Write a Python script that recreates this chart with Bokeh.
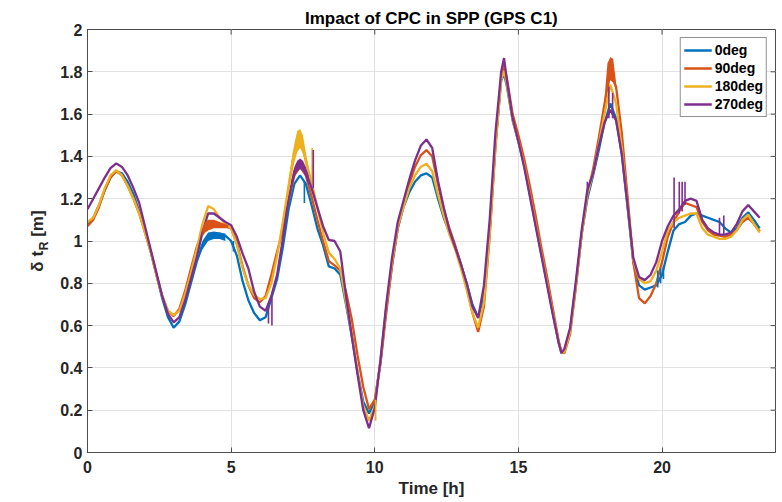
import numpy as np
from bokeh.plotting import figure
from bokeh.models import Range1d, FixedTicker, LinearAxis, Legend, LegendItem
from bokeh.embed import file_html
from bokeh.resources import INLINE

# ---------------- data ----------------
# sampling times [h]: 0.2 h grid with the two sharp extrema added
T = sorted([round(0.2 * i, 1) for i in range(118)] + [14.5, 16.5])

deg0 = [1.08, 1.11, 1.17, 1.24, 1.30, 1.33, 1.32, 1.28, 1.22, 1.14,
        1.05, 0.95, 0.84, 0.73, 0.64, 0.59, 0.62, 0.70, 0.80, 0.90,
        0.98, 1.02, 1.035, 1.035, 1.025, 1.00, 0.93, 0.81, 0.72, 0.66,
        0.625, 0.64, 0.73, 0.82, 0.97, 1.15, 1.27, 1.31, 1.27, 1.17,
        1.06, 0.98, 0.88, 0.87, 0.84, 0.70, 0.55, 0.38, 0.24, 0.185,
        0.24, 0.43, 0.68, 0.89, 1.06, 1.16, 1.23, 1.28, 1.31, 1.32,
        1.30, 1.20, 1.11, 1.04, 0.97, 0.89, 0.80, 0.70, 0.64, 0.74,
        1.05, 1.46, 1.76, 1.79, 1.73, 1.57, 1.47, 1.36, 1.22, 1.08,
        0.94, 0.80, 0.66, 0.52, 0.47, 0.48, 0.58, 0.79, 1.03, 1.20,
        1.31, 1.43, 1.56, 1.65, 1.58, 1.41, 1.16, 0.90, 0.79, 0.77,
        0.78, 0.79, 0.84, 0.95, 1.05, 1.08, 1.09, 1.12, 1.13, 1.12,
        1.11, 1.10, 1.09, 1.06, 1.04, 1.06, 1.11, 1.135, 1.10, 1.06]

deg90 = [1.07, 1.10, 1.16, 1.24, 1.30, 1.33, 1.31, 1.26, 1.20, 1.13,
         1.04, 0.95, 0.84, 0.74, 0.67, 0.645, 0.68, 0.765, 0.87, 0.97,
         1.045, 1.075, 1.08, 1.075, 1.07, 1.06, 0.99, 0.88, 0.79, 0.73,
         0.71, 0.74, 0.84, 0.95, 1.05, 1.19, 1.31, 1.35, 1.31, 1.21,
         1.10, 1.00, 0.905, 0.885, 0.86, 0.76, 0.63, 0.46, 0.31, 0.205,
         0.25, 0.42, 0.66, 0.88, 1.06, 1.17, 1.27, 1.35, 1.405, 1.43,
         1.40, 1.27, 1.15, 1.06, 0.98, 0.89, 0.78, 0.66, 0.57, 0.69,
         1.02, 1.44, 1.77, 1.83, 1.77, 1.60, 1.50, 1.39, 1.26, 1.12,
         0.97, 0.83, 0.68, 0.53, 0.475, 0.47, 0.56, 0.78, 1.03, 1.22,
         1.34, 1.49, 1.65, 1.80, 1.73, 1.51, 1.21, 0.90, 0.73, 0.705,
         0.74, 0.80, 0.90, 1.02, 1.09, 1.14, 1.18, 1.17, 1.16, 1.09,
         1.05, 1.03, 1.025, 1.02, 1.03, 1.05, 1.09, 1.11, 1.08, 1.045]

deg180 = [1.09, 1.11, 1.17, 1.25, 1.31, 1.335, 1.31, 1.26, 1.20, 1.13,
          1.04, 0.95, 0.84, 0.74, 0.67, 0.65, 0.67, 0.75, 0.85, 0.96,
          1.08, 1.165, 1.15, 1.11, 1.08, 1.06, 0.98, 0.87, 0.79, 0.745,
          0.725, 0.73, 0.80, 0.93, 1.09, 1.26, 1.43, 1.49, 1.38, 1.28,
          1.16, 1.04, 0.945, 0.915, 0.87, 0.71, 0.56, 0.38, 0.22, 0.15,
          0.22, 0.44, 0.69, 0.90, 1.07, 1.16, 1.25, 1.31, 1.35, 1.365,
          1.33, 1.22, 1.12, 1.03, 0.96, 0.87, 0.77, 0.66, 0.59, 0.71,
          1.03, 1.45, 1.76, 1.805, 1.74, 1.57, 1.47, 1.36, 1.22, 1.08,
          0.94, 0.80, 0.66, 0.52, 0.47, 0.475, 0.57, 0.79, 1.03, 1.22,
          1.32, 1.46, 1.60, 1.74, 1.65, 1.44, 1.17, 0.91, 0.82, 0.80,
          0.81, 0.86, 0.95, 1.05, 1.09, 1.11, 1.12, 1.13, 1.13, 1.06,
          1.03, 1.02, 1.01, 1.01, 1.02, 1.05, 1.10, 1.125, 1.08, 1.04]

deg270 = [1.15, 1.20, 1.25, 1.30, 1.345, 1.367, 1.35, 1.31, 1.25, 1.18,
          1.07, 0.96, 0.85, 0.74, 0.655, 0.615, 0.64, 0.72, 0.82, 0.92,
          1.04, 1.13, 1.13, 1.11, 1.09, 1.075, 1.02, 0.94, 0.87, 0.76,
          0.69, 0.67, 0.74, 0.84, 1.01, 1.20, 1.33, 1.37, 1.33, 1.25,
          1.16, 1.07, 1.005, 1.00, 0.95, 0.74, 0.55, 0.37, 0.20, 0.115,
          0.21, 0.44, 0.70, 0.92, 1.09, 1.19, 1.29, 1.38, 1.45, 1.48,
          1.44, 1.285, 1.16, 1.05, 0.97, 0.89, 0.80, 0.69, 0.636, 0.79,
          1.10, 1.51, 1.80, 1.865, 1.76, 1.58, 1.47, 1.35, 1.21, 1.07,
          0.93, 0.79, 0.65, 0.52, 0.47, 0.49, 0.59, 0.81, 1.05, 1.24,
          1.32, 1.45, 1.56, 1.62, 1.57, 1.41, 1.17, 0.92, 0.83, 0.815,
          0.84, 0.90, 1.00, 1.07, 1.12, 1.15, 1.19, 1.20, 1.19, 1.10,
          1.06, 1.04, 1.03, 1.03, 1.04, 1.08, 1.14, 1.17, 1.14, 1.11]

series_labels = ["0deg", "90deg", "180deg", "270deg"]

# noisy bands (lower / upper envelope)
band0_t = [3.9, 4.0, 4.2, 4.4, 4.6, 4.8]
band0_lo = [0.93, 0.96, 1.00, 1.01, 1.01, 1.00]
band0_hi = [0.96, 1.00, 1.04, 1.045, 1.04, 1.035]
band90a_t = [4.0, 4.1, 4.2, 4.4, 4.6, 4.8, 4.9]
band90a_lo = [1.02, 1.04, 1.05, 1.06, 1.06, 1.06, 1.06]
band90a_hi = [1.06, 1.09, 1.10, 1.10, 1.09, 1.08, 1.075]
band90b_t = [18.0, 18.1, 18.2, 18.3, 18.4]
band90b_lo = [1.64, 1.72, 1.76, 1.75, 1.71]
band90b_hi = [1.68, 1.84, 1.87, 1.86, 1.75]
band180_t = [6.9, 7.0, 7.1, 7.2, 7.3, 7.4, 7.5, 7.6, 7.7]
band180_lo = [1.15, 1.22, 1.30, 1.37, 1.42, 1.44, 1.41, 1.35, 1.31]
band180_hi = [1.19, 1.29, 1.38, 1.46, 1.52, 1.53, 1.50, 1.42, 1.35]
band270_t = [7.1, 7.2, 7.3, 7.4, 7.5, 7.6, 7.7]
band270_lo = [1.25, 1.30, 1.33, 1.34, 1.33, 1.30, 1.26]
band270_hi = [1.29, 1.35, 1.38, 1.39, 1.38, 1.35, 1.31]

# isolated spikes (time, low, high)
spike0_t = [5.08, 7.55, 19.85, 19.95, 20.05]
spike0_lo = [0.95, 1.18, 0.78, 0.80, 0.82]
spike0_hi = [1.00, 1.28, 0.86, 0.87, 0.88]
spike180_t = [7.82, 10.03]
spike180_lo = [1.28, 0.15]
spike180_hi = [1.44, 0.25]
spike270_t = [6.3, 6.42, 7.86, 17.4, 18.15, 18.28, 20.42, 20.6, 20.7, 20.8, 22.0, 22.15]
spike270_lo = [0.61, 0.60, 1.25, 1.22, 1.58, 1.58, 1.06, 1.13, 1.14, 1.17, 1.03, 1.03]
spike270_hi = [0.70, 0.73, 1.43, 1.28, 1.73, 1.70, 1.30, 1.28, 1.28, 1.28, 1.11, 1.12]

xticks = [0, 5, 10, 15, 20]
xtick_labels = ["0", "5", "10", "15", "20"]
yticks = [0, 0.2, 0.4, 0.6, 0.8, 1, 1.2, 1.4, 1.6, 1.8, 2]
ytick_labels = ["0", "0.2", "0.4", "0.6", "0.8", "1", "1.2", "1.4", "1.6", "1.8", "2"]
X_MAX, Y_MAX = 23.95, 2

# ---------------- style ----------------
FONT = "Liberation Sans"
AXC = "#4d4d4d"
TXT = "#262626"
COLORS = ["#0072BD", "#D95319", "#EDB120", "#7E2F8E"]
LW = 2.3
TICK_LEN_X = 0.17   # inward tick length on the right side (data units, ~5 px)
TICK_LEN_Y = 0.024  # inward tick length on the top side (data units, ~5 px)

p = figure(width=782, height=502, output_backend="svg", toolbar_location=None,
           x_range=Range1d(0, X_MAX), y_range=Range1d(0, Y_MAX),
           min_border_left=87, min_border_right=7, min_border_top=29,
           min_border_bottom=50)
p.background_fill_color = "white"
p.border_fill_color = "white"
p.outline_line_color = AXC
p.outline_line_width = 1

p.title.text = "Impact of CPC in SPP (GPS C1)"
p.title.align = "center"
p.title.text_font = FONT
p.title.text_font_style = "bold"
p.title.text_font_size = "17px"
p.title.text_color = "#000000"
p.title.standoff = 4

xt = FixedTicker(ticks=xticks)
yt = FixedTicker(ticks=yticks)
p.xaxis.ticker = xt
p.yaxis.ticker = yt
p.xgrid.ticker = xt
p.ygrid.ticker = yt
p.xaxis.major_label_overrides = {v: s for v, s in zip(xticks, xtick_labels)}
p.yaxis.major_label_overrides = {v: s for v, s in zip(yticks, ytick_labels)}

for ax in (p.xaxis[0], p.yaxis[0]):
    ax.major_tick_in = 5
    ax.major_tick_out = 0
    ax.minor_tick_line_color = None
    ax.axis_line_color = AXC
    ax.major_tick_line_color = AXC
    ax.major_label_text_font = FONT
    ax.major_label_text_font_style = "bold"
    ax.major_label_text_font_size = "16px"
    ax.major_label_text_color = TXT
    ax.axis_label_text_font = FONT
    ax.axis_label_text_font_style = "bold"
    ax.axis_label_text_color = TXT

p.xaxis.major_label_standoff = 8
p.xaxis.axis_label = "Time [h]"
p.xaxis.axis_label_text_font_size = "17px"
p.xaxis.axis_label_standoff = 3

p.yaxis.major_label_standoff = 5
# subscript "R" of the y label (sits next to the tick labels)
p.yaxis.axis_label = "R\u00a0\u00a0\u00a0"
p.yaxis.axis_label_text_font_size = "12px"
p.yaxis.axis_label_standoff = 6

# main part of the y label, on an outer axis without ticks
ylab = LinearAxis(ticker=FixedTicker(ticks=[]), axis_label="\u03b4 t\u00a0\u00a0\u00a0[m]",
                  axis_label_standoff=-12, axis_line_color=None,
                  major_tick_line_color=None, minor_tick_line_color=None,
                  major_label_standoff=0, axis_label_text_font=FONT,
                  axis_label_text_font_style="bold", axis_label_text_font_size="17px",
                  axis_label_text_color=TXT)
p.add_layout(ylab, "left")

for g in (p.xgrid[0], p.ygrid[0]):
    g.grid_line_color = "#e2e2e2"
    g.grid_line_width = 1

# inward ticks of the top and right box edges
p.segment(x0=xticks, y0=[Y_MAX] * len(xticks), x1=xticks,
          y1=[Y_MAX - TICK_LEN_Y] * len(xticks), line_color=AXC, line_width=1)
p.segment(x0=[X_MAX - TICK_LEN_X] * len(yticks), y0=yticks,
          x1=[X_MAX] * len(yticks), y1=yticks, line_color=AXC, line_width=1)

# ---------------- marks ----------------
renderers = []
for vals, col in zip([deg0, deg90, deg180, deg270], COLORS):
    renderers.append(p.line(T, vals, line_color=col, line_width=LW))

bands = [(band0_t, band0_lo, band0_hi, COLORS[0]),
         (band90a_t, band90a_lo, band90a_hi, COLORS[1]),
         (band90b_t, band90b_lo, band90b_hi, COLORS[1]),
         (band180_t, band180_lo, band180_hi, COLORS[2]),
         (band270_t, band270_lo, band270_hi, COLORS[3])]
for bt, blo, bhi, col in bands:
    p.varea(x=bt, y1=blo, y2=bhi, fill_color=col, fill_alpha=1)

spikes = [(spike0_t, spike0_lo, spike0_hi, COLORS[0]),
          (spike180_t, spike180_lo, spike180_hi, COLORS[2]),
          (spike270_t, spike270_lo, spike270_hi, COLORS[3])]
for st, slo, shi, col in spikes:
    p.segment(x0=st, y0=slo, x1=st, y1=shi, line_color=col, line_width=1.6)

legend = Legend(items=[LegendItem(label=l, renderers=[r]) for l, r in zip(series_labels, renderers)],
                location="top_right", margin=8, padding=3, spacing=0,
                glyph_width=28, glyph_height=18, label_height=18, label_standoff=3,
                border_line_color="#262626", border_line_width=1,
                background_fill_color="white", background_fill_alpha=1,
                label_text_font=FONT, label_text_font_style="bold",
                label_text_font_size="14px", label_text_color="#000000")
p.add_layout(legend)

open("out.html", "w").write(file_html(p, INLINE))
